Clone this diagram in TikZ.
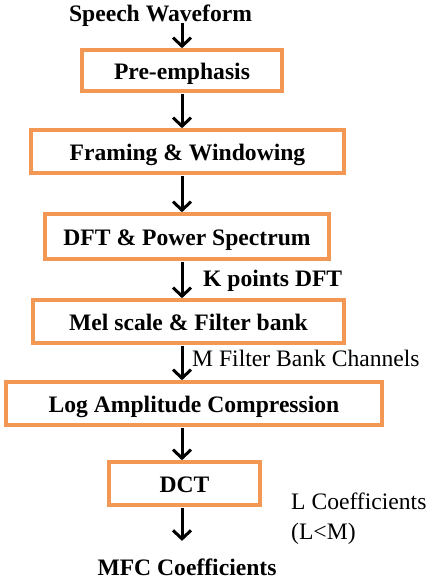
\documentclass[tikz,border=0pt]{standalone}
\usepackage{fontspec}
\setmainfont{Liberation Serif}
\usetikzlibrary{arrows.meta,calc}
\definecolor{boxorange}{RGB}{242,152,84}
\tikzset{
  stagebox/.style={draw=boxorange, line width=3.6pt, inner sep=0pt,
    text height=18pt, text depth=0pt,
    font=\fontsize{23.6}{28}\selectfont\bfseries},
  plainlabel/.style={inner sep=0pt, font=\fontsize{23.6}{28}\selectfont},
  boldlabel/.style={inner sep=0pt, font=\fontsize{23.6}{28}\selectfont\bfseries},
  flow/.style={line width=3pt, -{Straight Barb[length=8.5pt,width=18pt]}}
}
\begin{document}
\begin{tikzpicture}[x=1pt,y=1pt]
\useasboundingbox (0,0) rectangle (427,-587);
\coordinate (ax) at (182,0);
\node[boldlabel, anchor=base] (speech) at (160.5,-21) {Speech Waveform};
\node[stagebox, minimum width=200pt, minimum height=41pt] (pre) at (182,-70.5) {Pre-emphasis};
\node[stagebox, minimum width=313pt, minimum height=43pt] (frame) at (187.5,-151.5) {Framing \& Windowing};
\node[stagebox, minimum width=284pt, minimum height=45pt] (dft) at (187,-236.5) {DFT \& Power Spectrum};
\node[stagebox, minimum width=311pt, minimum height=43pt] (mel) at (188.5,-321.5) {Mel scale \& Filter bank};
\node[stagebox, minimum width=376pt, minimum height=43pt] (log) at (194,-403.5) {Log Amplitude Compression};
\node[stagebox, minimum width=151pt, minimum height=43pt] (dct) at (184.5,-483.5) {DCT};
\node[boldlabel, anchor=base] (mfc) at (187,-575.7) {MFC Coefficients};
\node[boldlabel, anchor=base west] (kpts) at (203,-286) {K points DFT};
\node[plainlabel, anchor=base west] (mchan) at (192,-366.7) {M Filter Bank Channels};
\node[plainlabel, anchor=base west] (lcoef) at (291,-509) {L Coefficients};
\node[plainlabel, anchor=base west] (lm) at (291,-539) {(L<M)};
\draw[flow] ($(speech.base -| ax)+(0,-2pt)$) -- (pre.north -| ax);
\draw[flow] ($(pre.south -| ax)+(0,-1pt)$) -- (frame.north -| ax);
\draw[flow] ($(frame.south -| ax)+(0,-1pt)$) -- (dft.north -| ax);
\draw[flow] ($(dft.south -| ax)+(0,-1pt)$) -- (mel.north -| ax);
\draw[flow] ($(mel.south -| ax)+(0,-1pt)$) -- (log.north -| ax);
\draw[flow] ($(log.south -| ax)+(0,-1pt)$) -- (dct.north -| ax);
\coordinate (mfcin) at ($(mfc.north -| ax)+(0,18pt)$);
\draw[flow] ($(dct.south -| ax)+(0,-1pt)$) -- (mfcin);
\end{tikzpicture}
\end{document}
